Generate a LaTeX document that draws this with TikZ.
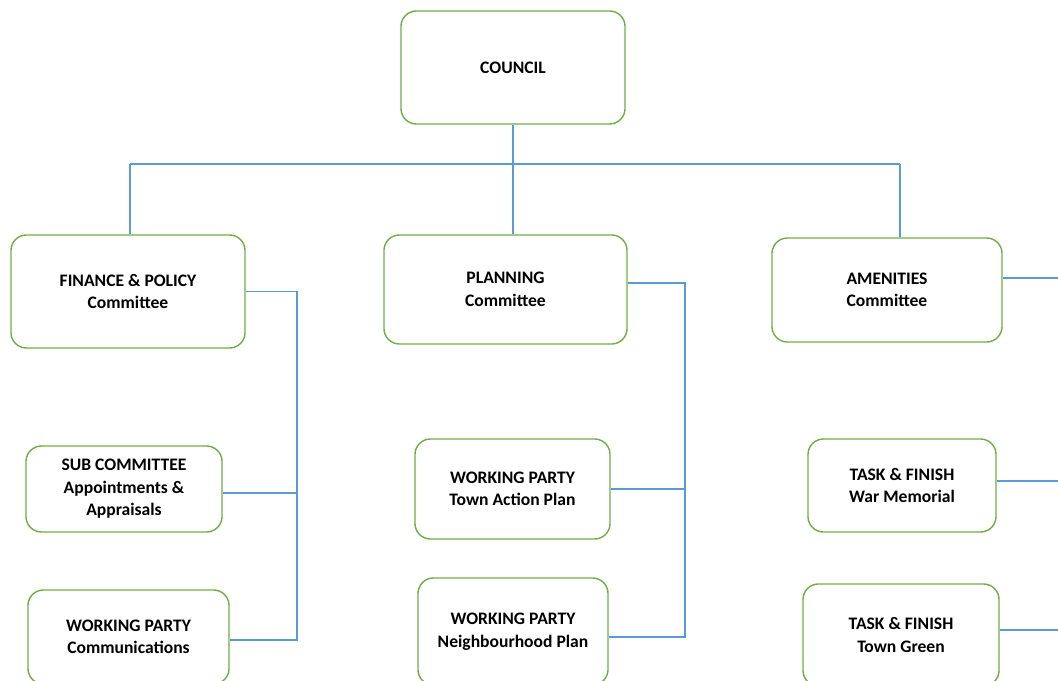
\documentclass[tikz,border=0pt]{standalone}
\usepackage{fontspec}
\setmainfont{Carlito}
\usepackage{tikz}
\definecolor{boxgreen}{RGB}{112,173,71}
\definecolor{linkblue}{RGB}{91,155,213}

\begin{document}
\begin{tikzpicture}
  [x=0.025cm,y=-0.025cm,
   board/.style={draw=boxgreen,line width=1pt,rounded corners=11pt,align=center,inner sep=0pt,
                 font=\fontsize{12.5}{16}\selectfont\bfseries},
   link/.style={draw=linkblue,line width=1pt}]

  \useasboundingbox (0,0) rectangle (1058,681);

  \node[board,minimum width=5.6cm,minimum height=2.825cm] (council) at (513,67.5) {COUNCIL};
  \node[board,minimum width=5.85cm,minimum height=2.825cm] (finance) at (128,291.5) {FINANCE \& POLICY\\Committee};
  \node[board,minimum width=6.075cm,minimum height=2.725cm] (planning) at (505.5,289.5) {PLANNING\\Committee};
  \node[board,minimum width=5.75cm,minimum height=2.6cm] (amenities) at (887,290) {AMENITIES\\Committee};
  \node[board,minimum width=4.9cm,minimum height=2.15cm] (subcttee) at (124,489) {SUB COMMITTEE\\Appointments \&\\Appraisals};
  \node[board,minimum width=5.025cm,minimum height=2.35cm] (comms) at (128.5,637) {WORKING PARTY\\Communications};
  \node[board,minimum width=4.875cm,minimum height=2.5cm] (tap) at (512.5,489) {WORKING PARTY\\Town Action Plan};
  \node[board,minimum width=4.75cm,minimum height=2.675cm] (nplan) at (513,631.5) {WORKING PARTY\\Neighbourhood Plan};
  \node[board,minimum width=4.7cm,minimum height=2.325cm] (warmem) at (902,485.5) {TASK \& FINISH\\War Memorial};
  \node[board,minimum width=4.9cm,minimum height=2.55cm] (tgreen) at (901,635) {TASK \& FINISH\\Town Green};

  \coordinate (busL) at (130,164);
  \coordinate (busR) at (900,164);
  \coordinate (fbus) at (297,0);
  \coordinate (pbus) at (685,0);
  \coordinate (edge) at (1058,0);

  % council to committees
  \draw[link] (busL) -- (busR);
  \draw[link] (council.south) -- (council.south |- planning.north);
  \draw[link] (busL) -- (busL |- finance.north);
  \draw[link] (busR) -- (busR |- amenities.north);

  % committees to their groups
  \draw[link] (finance.east) -- (finance.east -| fbus) -- ([yshift=-0.075cm]comms.east -| fbus) -- ([yshift=-0.075cm]comms.east);
  \draw[link] ([yshift=-0.1cm]subcttee.east) -- ([yshift=-0.1cm]subcttee.east -| fbus);
  \draw[link] ([yshift=0.16cm]planning.east) -- ([yshift=0.16cm]planning.east -| pbus) -- ([yshift=-0.14cm]nplan.east -| pbus) -- ([yshift=-0.14cm]nplan.east);
  \draw[link] (tap.east) -- (tap.east -| pbus);
  \foreach \from/\dy in {amenities/0.3cm,warmem/0.11cm,tgreen/0.12cm}
    \draw[link] ([yshift=\dy]\from.east) -- ([yshift=\dy]\from.east -| edge);
\end{tikzpicture}
\end{document}
